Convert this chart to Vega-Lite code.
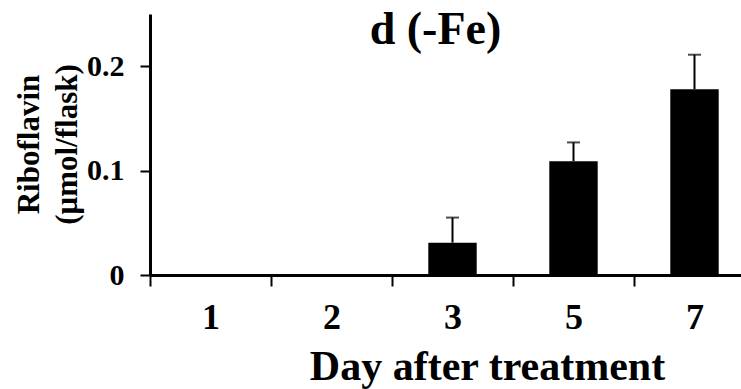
{
  "$schema": "https://vega.github.io/schema/vega-lite/v6.json",
  "autosize": {"type": "none"},
  "padding": {"left": 150, "top": 14, "right": 0, "bottom": 114},
  "width": 591,
  "height": 261,
  "background": "white",
  "config": {
    "view": {"stroke": null},
    "font": "Liberation Serif"
  },
  "title": {
    "text": "d (-Fe)",
    "font": "Liberation Serif",
    "fontWeight": "bold",
    "fontSize": 46,
    "color": "black",
    "anchor": "middle",
    "frame": "group",
    "baseline": "alphabetic",
    "offset": 0,
    "dx": -10,
    "dy": 76
  },
  "data": {
    "values": [
      {"day": "1", "value": 0, "upper": null},
      {"day": "2", "value": 0, "upper": null},
      {"day": "3", "value": 0.031, "upper": 0.055},
      {"day": "5", "value": 0.109, "upper": 0.127},
      {"day": "7", "value": 0.178, "upper": 0.211}
    ]
  },
  "encoding": {
    "x": {
      "field": "day",
      "type": "ordinal",
      "sort": ["1", "2", "3", "5", "7"],
      "scale": {"range": [0, 605], "paddingInner": 0, "paddingOuter": 0},
      "axis": {
        "title": "Day after treatment",
        "titleFont": "Liberation Serif",
        "titleFontWeight": "bold",
        "titleFontSize": 42,
        "titleColor": "black",
        "titleX": 337,
        "titleY": 104,
        "titleAlign": "center",
        "titleBaseline": "alphabetic",
        "labelFont": "Liberation Serif",
        "labelFontWeight": "bold",
        "labelFontSize": 36,
        "labelColor": "black",
        "labelAngle": 0,
        "labelPadding": 14,
        "labelBaseline": "top",
        "tickBand": "extent",
        "tickSize": 11,
        "tickWidth": 2,
        "tickColor": "black",
        "domainColor": "black",
        "domainWidth": 3,
        "grid": false
      }
    }
  },
  "layer": [
    {
      "mark": {"type": "bar", "color": "black", "width": {"band": 0.4}},
      "encoding": {
        "y": {
          "field": "value",
          "type": "quantitative",
          "scale": {"domain": [0, 0.25], "nice": false},
          "axis": {
            "title": ["Riboflavin", "(μmol/flask)"],
            "titleFont": "Liberation Serif",
            "titleFontWeight": "bold",
            "titleFontSize": 31,
            "titleLineHeight": 38,
            "titleColor": "black",
            "titleAngle": -90,
            "titleAlign": "center",
            "titleBaseline": "top",
            "titleX": -136,
            "titleY": 130,
            "values": [0, 0.1, 0.2],
            "labelExpr": "datum.value == 0 ? '0' : format(datum.value, '.1f')",
            "labelFont": "Liberation Serif",
            "labelFontWeight": "bold",
            "labelFontSize": 30,
            "labelColor": "black",
            "labelPadding": 16,
            "tickSize": 10,
            "tickWidth": 2,
            "tickColor": "black",
            "domainColor": "black",
            "domainWidth": 3,
            "grid": false
          }
        }
      }
    },
    {
      "transform": [{"filter": "datum.upper != null"}],
      "mark": {"type": "rule", "color": "black", "strokeWidth": 2},
      "encoding": {
        "y": {"field": "value", "type": "quantitative"},
        "y2": {"field": "upper"}
      }
    },
    {
      "transform": [{"filter": "datum.upper != null"}],
      "mark": {"type": "tick", "color": "black", "orient": "horizontal", "size": 13, "thickness": 2},
      "encoding": {
        "y": {"field": "upper", "type": "quantitative"}
      }
    }
  ]
}
